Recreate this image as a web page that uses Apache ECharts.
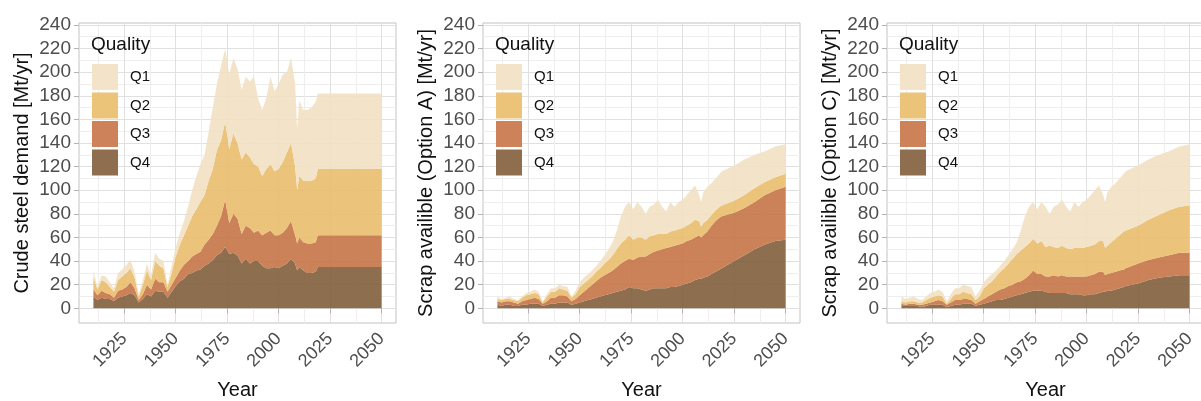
<!DOCTYPE html>
<html>
<head>
<meta charset="utf-8">
<title>Steel demand and scrap availability by quality</title>
<script src="https://cdn.jsdelivr.net/npm/echarts@6/dist/echarts.min.js"></script>
<style>
  html, body { margin: 0; padding: 0; background: #ffffff; }
  #chart { width: 1201px; height: 401px; }
</style>
</head>
<body>
<div id="chart"></div>
<script>
// Years sampled for every panel (historical record, then projection)
const years = [
  1910,1912,1914,1916,1918,1920,1922,1924,1926,1928,
  1930,1932,1934,1936,1938,1940,1942,1944,1946,1948,
  1950,1952,1954,1956,1958,1960,1962,1964,1966,1968,
  1970,1972,1974,1976,1978,1980,1982,1984,1986,1988,
  1990,1992,1994,1996,1998,2000,2002,2004,2006,2008,
  2009,2010,2012,2014,2016,2018,2019,
  2025,2030,2035,2040,2045,2050
];

const qualities = ['Q1', 'Q2', 'Q3', 'Q4'];

// Crude steel demand [Mt/yr] by quality
const demandQ4 = [10,7,9,8,8,6,9,10,11,13, 11,5,8,12,10,15,14,14,9,14, 19,23,25,29,30,32,33,36,38,41,
  45,47,52,46,47,45,38,42,38,40, 40,36,34,34,35,34,36,38,42,38, 32, 35,32,30,30,31, 35, 35,35,35,35,35,35];
const demandQ3 = [6,4,6,5,4,3,6,6,7,9, 6,2,4,8,6,10,8,8,5,6, 7,9,12,11,14,14,15,18,20,22,
  25,31,40,26,33,31,25,28,30,24, 26,26,30,32,27,28,28,30,32,24, 23, 25,24,25,25,25, 27, 27,27,27,27,27,27];
const demandQ2 = [10,5,9,9,6,5,9,11,12,12, 9,3,8,12,8,15,14,12,4,10, 18,22,25,30,34,38,42,42,50,55,
  64,64,66,63,68,64,63,62,60,58, 54,50,54,56,54,56,60,64,66,58, 45, 52,52,53,53,54, 56, 56,56,56,56,56,56];
const demandQ1 = [6,2,4,5,4,3,6,6,7,7, 5,2,4,6,4,7,6,6,2,6, 8,10,12,16,22,28,32,34,42,52,
  56,63,62,63,64,63,59,64,64,74, 58,56,60,74,68,72,74,68,72,70, 52, 64,60,60,62,65, 64, 64,64,64,64,64,64];

// Scrap available, option A [Mt/yr] by quality
const scrapAQ4 = [3,2,3,3,2,2,3,3,4,4, 4,2,3,4,4,5,5,5,3,4, 5,6,7,8,9,10,11,12,13,14,
  15,16,18,17,17,16,15,16,17,17, 17,17,18,18,19,20,21,22,24,25, 25, 26,27,29,31,33, 34, 40,45,50,54,57,58];
const scrapAQ3 = [3,3,3,3,3,2,3,4,4,5, 4,2,3,5,5,6,6,5,3,4, 6,8,10,12,14,16,17,18,19,21,
  23,24,24,24,26,28,29,30,31,32, 33,34,34,35,35,35,36,36,36,37, 35, 36,38,41,43,44, 44, 41,40,40,42,43,45];
const scrapAQ2 = [2,2,2,2,2,2,3,4,4,4, 4,1,4,5,5,6,5,5,3,4, 7,7,7,7,8,8,10,11,13,15,
  17,18,20,17,17,16,14,15,14,14, 13,12,13,13,13,13,13,14,15,12, 9, 10,10,9,9,9, 9, 10,11,12,11,11,11];
const scrapAQ1 = [2,1,1,2,1,1,1,2,2,3, 2,1,2,3,3,3,3,3,1,3, 4,5,5,5,5,6,7,9,11,16,
  23,28,28,26,30,26,22,25,26,29, 23,19,25,20,23,24,26,28,29,22, 21, 26,28,27,27,28, 29, 30,30,28,26,26,25];

// Scrap available, option C [Mt/yr] by quality
const scrapCQ4 = [2,2,2,2,2,1,2,3,3,3, 3,1,2,3,3,4,4,4,2,3, 4,5,6,7,7,8,9,10,11,12,
  13,14,15,15,15,14,13,13,13,13, 13,12,12,12,11,11,12,12,13,14, 14, 15,15,16,17,18, 19, 21,24,26,27,28,28];
const scrapCQ3 = [2,1,2,2,1,2,2,2,3,4, 3,2,3,4,4,4,4,3,2,3, 4,5,6,7,9,9,10,10,11,11,
  12,14,17,14,14,13,14,15,14,15, 14,15,15,15,16,16,16,17,18,17, 14, 14,15,15,15,15, 15, 17,17,17,18,19,19];
const scrapCQ2 = [2,2,2,2,2,2,3,4,4,4, 4,1,3,5,5,6,5,5,3,4, 9,10,11,13,15,17,19,22,24,26,
  27,27,27,26,28,25,26,24,24,25, 24,23,24,24,24,25,25,25,26,26, 23, 24,26,28,30,32, 32, 32,34,36,38,39,40];
const scrapCQ1 = [4,3,3,4,3,2,3,4,4,5, 4,2,4,5,5,6,6,6,3,5, 5,6,6,5,5,6,7,8,10,17,
  26,31,31,29,33,34,27,34,37,39, 35,32,39,35,39,40,43,46,47,39, 39, 45,47,47,48,49, 50, 51,51,51,50,51,52];

// Axis breaks
const yearBreaks = [1925, 1950, 1975, 2000, 2025, 2050];
const yearMinorBreaks = [1912.5, 1937.5, 1962.5, 1987.5, 2012.5, 2037.5];
const valueBreaks = [0, 20, 40, 60, 80, 100, 120, 140, 160, 180, 200, 220, 240];
const valueMinorBreaks = [10, 30, 50, 70, 90, 110, 130, 150, 170, 190, 210, 230];

const yTitles = [
  'Crude steel demand [Mt/yr]',
  'Scrap availible (Option A) [Mt/yr]',
  'Scrap availible (Option C) [Mt/yr]'
];

const panels = [
  { Q1: demandQ1, Q2: demandQ2, Q3: demandQ3, Q4: demandQ4 },
  { Q1: scrapAQ1, Q2: scrapAQ2, Q3: scrapAQ3, Q4: scrapAQ4 },
  { Q1: scrapCQ1, Q2: scrapCQ2, Q3: scrapCQ3, Q4: scrapCQ4 }
];

// Area fills (drawn slightly translucent) and the solid key colours
const areaColors = { Q1: '#F2E1C3', Q2: '#E9BD6B', Q3: '#C77447', Q4: '#815E3B' };
const keyColors  = { Q1: '#F3E4C9', Q2: '#EBC47A', Q3: '#CD8259', Q4: '#8E6E4F' };

const FONT = '"Liberation Sans", Arial, Helvetica, sans-serif';
const panelLefts = [79, 483, 887];
const panelWidth = 317;
const panelTop = 23;
const panelHeight = 300;
const X_MIN = 1903, X_MAX = 2057;
const Y_MIN = -12.4, Y_MAX = 241.6;

const grid = [], xAxis = [], yAxis = [], series = [], legend = [], title = [];

panels.forEach((panel, p) => {
  const left = panelLefts[p];
  grid.push({
    left: left, top: panelTop, width: panelWidth, height: panelHeight,
    containLabel: false, outerBoundsMode: 'none',
    show: true, borderColor: '#C2C2C2', borderWidth: 1, backgroundColor: 'transparent'
  });

  // main x axis: labels, ticks and major grid lines
  xAxis.push({
    type: 'value', gridIndex: p, min: X_MIN, max: X_MAX,
    name: 'Year', nameLocation: 'middle', nameGap: 57,
    nameTextStyle: { fontSize: 20, color: '#111', fontFamily: FONT },
    axisLine: { show: false },
    axisTick: { show: true, length: 5, lineStyle: { color: '#B3B3B3' }, customValues: yearBreaks },
    axisLabel: { show: true, rotate: 45, margin: 13, fontSize: 18, color: '#4D4D4D',
                 fontFamily: FONT, customValues: yearBreaks, formatter: v => String(v) },
    splitLine: { show: true, lineStyle: { color: '#E0E0E0', width: 1 } }
  });
  // companion x axis carrying the minor grid lines only
  xAxis.push({
    type: 'value', gridIndex: p, min: X_MIN, max: X_MAX,
    axisLine: { show: false },
    axisTick: { show: false, customValues: yearMinorBreaks },
    axisLabel: { show: false },
    splitLine: { show: true, lineStyle: { color: '#EEEEEE', width: 1 } }
  });

  yAxis.push({
    type: 'value', gridIndex: p, min: Y_MIN, max: Y_MAX,
    name: yTitles[p], nameLocation: 'middle', nameGap: 47,
    nameTextStyle: { fontSize: 20, color: '#111', fontFamily: FONT },
    axisLine: { show: false },
    axisTick: { show: true, length: 5, lineStyle: { color: '#B3B3B3' }, customValues: valueBreaks },
    axisLabel: { show: true, margin: 8, fontSize: 19, color: '#4D4D4D',
                 fontFamily: FONT, customValues: valueBreaks, formatter: v => String(v) },
    splitLine: { show: true, lineStyle: { color: '#E0E0E0', width: 1 } }
  });
  yAxis.push({
    type: 'value', gridIndex: p, min: Y_MIN, max: Y_MAX,
    axisLine: { show: false },
    axisTick: { show: false, customValues: valueMinorBreaks },
    axisLabel: { show: false },
    splitLine: { show: true, lineStyle: { color: '#EEEEEE', width: 1 } }
  });

  // stacked areas, lowest quality at the bottom; each point is [value, year]
  // so that the amount (not the year) is the dimension that gets stacked
  ['Q4', 'Q3', 'Q2', 'Q1'].forEach(q => {
    series.push({
      name: q, type: 'line', stack: 'panel' + p,
      xAxisIndex: 2 * p, yAxisIndex: 2 * p,
      encode: { x: 1, y: 0 },
      data: years.map((yr, i) => [panel[q][i], yr]),
      symbol: 'none', showSymbol: false, smooth: false,
      lineStyle: { width: 0, color: areaColors[q] },
      itemStyle: { color: keyColors[q] },
      areaStyle: { color: areaColors[q], opacity: 0.9 },
      emphasis: { disabled: true },
      z: 3
    });
  });

  title.push({
    text: 'Quality', left: left + 12, top: 35, padding: 0,
    textStyle: { fontSize: 19, fontWeight: 'normal', color: '#111', fontFamily: FONT }
  });
  legend.push({
    data: qualities, orient: 'vertical', left: left + 13, top: 64, padding: 0,
    icon: 'rect', itemWidth: 26, itemHeight: 26, itemGap: 2.5,
    selectedMode: false,
    textStyle: { fontSize: 15, color: '#111', fontFamily: FONT, padding: [0, 0, 0, 7] }
  });
});

const chart = echarts.init(document.getElementById('chart'), null, { renderer: 'canvas' });
chart.setOption({
  animation: false,
  backgroundColor: '#ffffff',
  textStyle: { fontFamily: FONT },
  title, legend, grid, xAxis, yAxis, series
});
</script>
</body>
</html>
